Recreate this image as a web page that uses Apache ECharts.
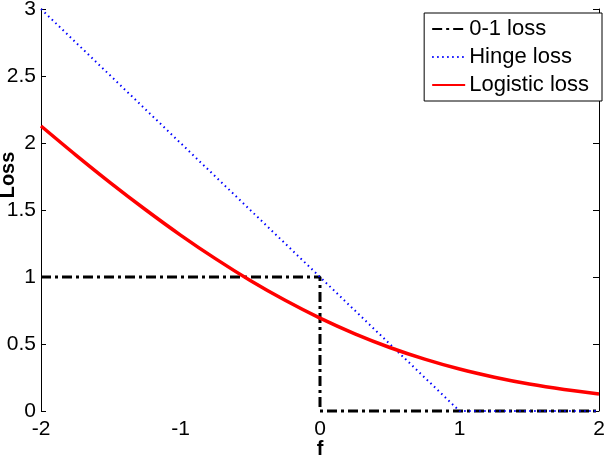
<!DOCTYPE html>
<html>
<head>
<meta charset="utf-8">
<script src="https://cdn.jsdelivr.net/npm/echarts@6/dist/echarts.min.js"></script>
<style>html,body{margin:0;padding:0;background:#fff}#c{width:604px;height:456px}</style>
</head>
<body>
<div id="c"></div>
<script>
// f values and losses
const fValues = [-2, -1.75, -1.5, -1.25, -1, -0.75, -0.5, -0.25, 0, 0.25, 0.5, 0.75, 1, 1.25, 1.5, 1.75, 2];
const logisticLoss = [2.127, 1.910, 1.701, 1.502, 1.313, 1.137, 0.974, 0.826, 0.693, 0.576, 0.474, 0.387, 0.313, 0.252, 0.201, 0.160, 0.127];
const hingeF = [-2, 1, 2];
const hingeLoss = [3, 0, 0];
const zeroOneF = [-2, 0, 0, 2];
const zeroOneLoss = [1, 1, 0, 0];
const seriesNames = ['0-1 loss', 'Hinge loss', 'Logistic loss'];

const pair = (xs, ys) => xs.map((x, i) => [x, ys[i]]);
const FONT = 'Liberation Sans, Arial, sans-serif';

const chart = echarts.init(document.getElementById('c'), null, {renderer: 'canvas'});
chart.setOption({
  animation: false,
  backgroundColor: '#fff',
  grid: {left: 41, right: 5, top: 9, bottom: 45, containLabel: false, outerBoundsMode: 'none'},
  legend: {
    data: seriesNames,
    orient: 'vertical',
    right: 2,
    top: 13,
    itemWidth: 33,
    itemHeight: 14,
    itemGap: 6,
    padding: [5, 13, 5, 7],
    borderColor: '#000',
    borderWidth: 1,
    backgroundColor: '#fff',
    itemStyle: {opacity: 0},
    textStyle: {fontFamily: FONT, fontSize: 22, color: '#000', padding: [0, 0, 0, -1]}
  },
  xAxis: {
    type: 'value', min: -2, max: 2, interval: 1,
    name: 'f', nameLocation: 'middle', nameGap: 28, nameMoveOverlap: false,
    nameTextStyle: {fontFamily: FONT, fontSize: 20, fontWeight: 'bold', color: '#000'},
    axisLine: {show: false, onZero: false}, axisTick: {show: false}, splitLine: {show: false},
    axisLabel: {fontFamily: FONT, fontSize: 21, color: '#000', margin: 8}
  },
  yAxis: [{
    type: 'value', min: 0, max: 3, interval: 0.5,
    name: 'Loss', nameLocation: 'middle', nameGap: 23, nameRotate: 90, nameMoveOverlap: false,
    nameTextStyle: {fontFamily: FONT, fontSize: 20, fontWeight: 'bold', color: '#000', padding: [0, 0, 0, 70]},
    axisLine: {show: true, onZero: false, lineStyle: {color: '#000', width: 1}},
    axisTick: {show: true, inside: true, length: 5, lineStyle: {color: '#000'}},
    splitLine: {show: false},
    axisLabel: {fontFamily: FONT, fontSize: 21, color: '#000', margin: 5}
  }, {
    type: 'value', min: 0, max: 3, interval: 0.5, position: 'right',
    axisLine: {show: true, onZero: false, lineStyle: {color: '#000', width: 1}},
    axisTick: {show: true, inside: true, length: 6, lineStyle: {color: '#000'}},
    splitLine: {show: false}, axisLabel: {show: false}
  }],
  series: [{
    name: seriesNames[0], type: 'line', data: pair(zeroOneF, zeroOneLoss),
    symbol: 'none', clip: false,
    lineStyle: {color: '#000', width: 3, type: [10, 4, 3, 4]},
    itemStyle: {color: '#000'}
  }, {
    name: seriesNames[1], type: 'line', data: pair(hingeF, hingeLoss),
    symbol: 'none', clip: false,
    lineStyle: {color: '#0000ff', width: 2, type: [1.5, 3.5]},
    itemStyle: {color: '#0000ff'}
  }, {
    name: seriesNames[2], type: 'line', data: pair(fValues, logisticLoss),
    symbol: 'none', clip: false, smooth: 0.3,
    lineStyle: {color: '#ff0000', width: 3.5},
    itemStyle: {color: '#ff0000'}
  }]
});
</script>
</body>
</html>
